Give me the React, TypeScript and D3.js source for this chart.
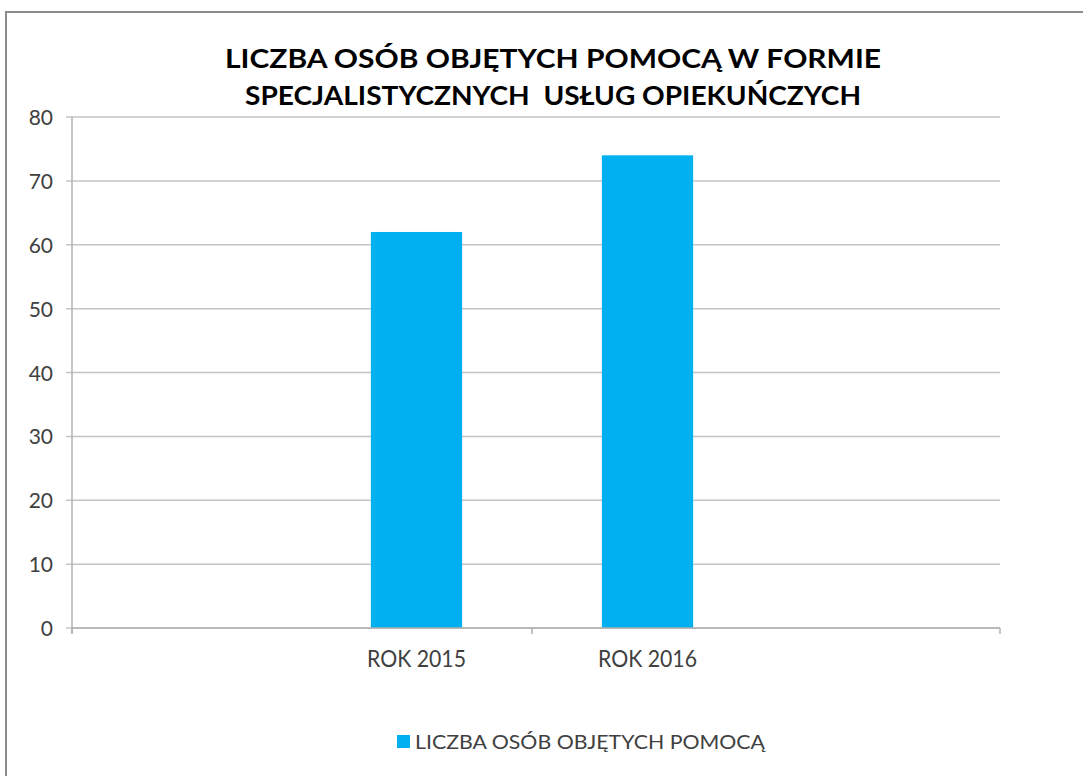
import React from "react";
import * as d3 from "d3";

const categories = ["ROK 2015", "ROK 2016"];
const values = [62, 74];
const yTicks = [0, 10, 20, 30, 40, 50, 60, 70, 80];
const titleLines = ["LICZBA OSÓB OBJĘTYCH POMOCĄ W FORMIE", "SPECJALISTYCZNYCH  USŁUG OPIEKUŃCZYCH"];
const seriesName = "LICZBA OSÓB OBJĘTYCH POMOCĄ";

const W = 1083;
const H = 776;
const plotLeft = 72;
const plotRight = 1000;
const plotTop = 117;
const plotBottom = 628;
const barColor = "#00B0F0";
const font = "Lato, 'Open Sans', sans-serif";

export default function App() {
  const y = d3.scaleLinear().domain([0, 80]).range([plotBottom, plotTop]);
  const x = d3
    .scaleBand<string>()
    .domain(categories)
    .range([301, 763])
    .padding(0);
  const barW = x.bandwidth() * 0.395;
  const xTicks = [plotLeft, x(categories[1]) as number, plotRight];

  return (
    <svg
      width={W}
      height={H}
      style={{ position: "absolute", left: 0, top: 0, background: "#fff" }}
      fontFamily={font}
    >
      {/* chart border */}
      <rect x={6} y={12} width={1200} height={900} fill="#fff" stroke="#8c8c8c" strokeWidth={2} />

      {/* title */}
      {titleLines.map((t, i) => (
        <text
          key={i}
          x={553}
          y={68 + i * 37}
          textAnchor="middle"
          fontSize={27}
          fontWeight="bold"
          fill="#000"
          textLength={i === 0 ? 656 : 616}
          lengthAdjust="spacingAndGlyphs"
          style={{ whiteSpace: "pre" }}
        >
          {t}
        </text>
      ))}

      {/* gridlines + y labels */}
      {yTicks.map((t) => (
        <g key={t}>
          <line x1={plotLeft - 6} x2={plotRight} y1={y(t)} y2={y(t)} stroke="#c4c4c4" strokeWidth={1.5} />
          <text x={53} y={y(t) + 8} textAnchor="end" fontSize={21} fill="#404040">
            {t}
          </text>
        </g>
      ))}

      {/* y axis line */}
      <line x1={plotLeft} x2={plotLeft} y1={plotTop} y2={plotBottom + 5} stroke="#b0b0b0" strokeWidth={1.5} />

      {/* bars */}
      {categories.map((c, i) => (
        <rect
          key={c}
          x={(x(c) as number) + x.bandwidth() / 2 - barW / 2}
          y={y(values[i])}
          width={barW}
          height={y(0) - y(values[i])}
          fill={barColor}
        />
      ))}

      {/* x axis */}
      <line x1={plotLeft} x2={plotRight} y1={plotBottom} y2={plotBottom} stroke="#b0b0b0" strokeWidth={1.5} />
      {xTicks.map((t, i) => (
        <line key={i} x1={t} x2={t} y1={plotBottom} y2={plotBottom + 6} stroke="#b0b0b0" strokeWidth={1.5} />
      ))}
      {categories.map((c) => (
        <text
          key={c}
          x={(x(c) as number) + x.bandwidth() / 2}
          y={667}
          textAnchor="middle"
          fontSize={23}
          fill="#404040"
          textLength={99}
          lengthAdjust="spacingAndGlyphs"
        >
          {c}
        </text>
      ))}

      {/* legend */}
      <rect x={397} y={735} width={13} height={13} fill={barColor} />
      <text x={415} y={749} fontSize={20} fill="#404040" textLength={350} lengthAdjust="spacingAndGlyphs">
        {seriesName}
      </text>
    </svg>
  );
}
